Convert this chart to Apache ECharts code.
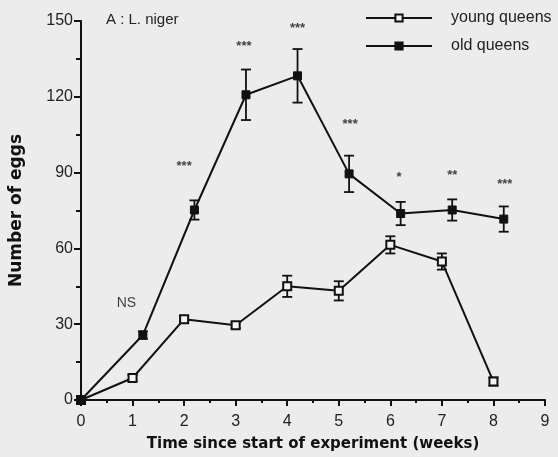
<!DOCTYPE html>
<html>
<head>
<meta charset="utf-8">
<script src="https://cdn.jsdelivr.net/npm/echarts@6/dist/echarts.min.js"></script>
<style>
html,body{margin:0;padding:0;background:#ececec;}
#c{width:558px;height:457px;}
</style>
</head>
<body>
<div id="c"></div>
<script>
// Data
var youngWeeks = [0, 1, 2, 3, 4, 5, 6, 7, 8];
var youngMeans = [0, 8.7, 32, 29.6, 45, 43.2, 61.4, 54.8, 7.3];
var youngErr   = [0, 1.2, 1.2, 1.2, 4.2, 3.8, 3.4, 3.2, 1.6];

var oldWeeks = [0, 1.2, 2.2, 3.2, 4.2, 5.2, 6.2, 7.2, 8.2];
var oldMeans = [0, 25.7, 75.2, 120.8, 128.3, 89.5, 73.8, 75.2, 71.6];
var oldErr   = [0, 1.5, 3.8, 10.0, 10.6, 7.2, 4.6, 4.2, 5.0];

var sigX = [0.88, 2.0, 3.16, 4.2, 5.22, 6.17, 7.2, 8.22];
var sigY = [38.2, 94, 141.5, 148.5, 110.5, 89.5, 90.5, 87];
var sigText = ["NS", "***", "***", "***", "***", "*", "**", "***"];

var xTicks = [0, 1, 2, 3, 4, 5, 6, 7, 8, 9];
var yTicks = [0, 30, 60, 90, 120, 150];

var chart = echarts.init(document.getElementById('c'), null, {renderer: 'canvas'});

function pairs(xs, ys) { return xs.map(function (x, i) { return [x, ys[i]]; }); }
function errData(xs, ys, es) {
  var out = [];
  for (var i = 0; i < xs.length; i++) {
    if (es[i] > 0) out.push([xs[i], ys[i] - es[i], ys[i] + es[i]]);
  }
  return out;
}
function errRender(params, api) {
  var x = api.value(0);
  var lo = api.coord([x, api.value(1)]);
  var hi = api.coord([x, api.value(2)]);
  var w = 5;
  var st = {stroke: '#111', lineWidth: 1.8};
  return {
    type: 'group',
    children: [
      {type: 'line', shape: {x1: lo[0], y1: lo[1], x2: hi[0], y2: hi[1]}, style: st},
      {type: 'line', shape: {x1: lo[0] - w, y1: lo[1], x2: lo[0] + w, y2: lo[1]}, style: st},
      {type: 'line', shape: {x1: hi[0] - w, y1: hi[1], x2: hi[0] + w, y2: hi[1]}, style: st}
    ]
  };
}

var font = '"Liberation Sans", Arial, Helvetica, sans-serif';
var boldFont = '"DejaVu Sans", "Liberation Sans", sans-serif';

chart.setOption({
  backgroundColor: '#ececec',
  animation: false,
  textStyle: {fontFamily: font},
  title: {
    text: 'A : L. niger',
    left: 101, top: 7,
    textStyle: {fontSize: 15, fontWeight: 'normal', color: '#222', fontFamily: font}
  },
  legend: {
    orient: 'vertical',
    left: 360, top: 5,
    itemWidth: 66, itemHeight: 9,
    itemGap: 12,
    textStyle: {fontSize: 16, color: '#222', fontFamily: font, padding: [0, 0, 0, 14]},
    data: ['young queens', 'old queens']
  },
  grid: {left: 80, right: 13, top: 21, bottom: 56},
  xAxis: {
    type: 'value', min: 0, max: 9, interval: 1,
    name: 'Time since start of experiment (weeks)',
    nameLocation: 'middle', nameGap: 37,
    nameTextStyle: {fontSize: 15, fontWeight: 'bold', color: '#111', fontFamily: boldFont},
    axisLine: {lineStyle: {color: '#111', width: 2}},
    axisTick: {show: true, length: 6, lineStyle: {color: '#111', width: 2}},
    minorTick: {show: true, splitNumber: 2, length: 3, lineStyle: {color: '#111', width: 2}},
    splitLine: {show: false},
    axisLabel: {fontSize: 16, color: '#222', margin: 14, fontFamily: font,
      formatter: function (v) { return xTicks.indexOf(v) >= 0 ? String(v) : ''; }}
  },
  yAxis: {
    type: 'value', min: 0, max: 150, interval: 30,
    name: 'Number of eggs',
    nameLocation: 'middle', nameGap: 56,
    nameTextStyle: {fontSize: 17, fontWeight: 'bold', color: '#111', fontFamily: boldFont},
    axisLine: {show: true, lineStyle: {color: '#111', width: 2}},
    axisTick: {show: true, length: 7, lineStyle: {color: '#111', width: 2}},
    minorTick: {show: true, splitNumber: 2, length: 5, lineStyle: {color: '#111', width: 2}},
    splitLine: {show: false},
    axisLabel: {fontSize: 16, color: '#222', margin: 8, fontFamily: font,
      formatter: function (v) { return yTicks.indexOf(v) >= 0 ? String(v) : ''; }}
  },
  series: [
    {
      name: 'young queens', type: 'line',
      data: pairs(youngWeeks, youngMeans),
      symbol: 'rect', symbolSize: 8, showAllSymbol: true,
      lineStyle: {color: '#111', width: 2},
      itemStyle: {color: '#f4f4f4', borderColor: '#111', borderWidth: 2},
      z: 3
    },
    {
      name: 'old queens', type: 'line',
      data: pairs(oldWeeks, oldMeans),
      symbol: 'rect', symbolSize: 8, showAllSymbol: true,
      lineStyle: {color: '#111', width: 2},
      itemStyle: {color: '#111', borderColor: '#111', borderWidth: 1},
      z: 3
    },
    {
      type: 'custom', renderItem: errRender, silent: true,
      data: errData(youngWeeks, youngMeans, youngErr), z: 2
    },
    {
      type: 'custom', renderItem: errRender, silent: true,
      data: errData(oldWeeks, oldMeans, oldErr), z: 2
    },
    {
      type: 'scatter', symbolSize: 0, silent: true,
      data: sigX.map(function (x, i) {
        var isStar = sigText[i].charAt(0) === '*';
        return {
          value: [x, sigY[i]], txt: sigText[i],
          label: isStar ? {offset: [0, 4], fontSize: 13, fontWeight: 'bold'} : {fontSize: 14, offset: [0, 0]}
        };
      }),
      label: {
        show: true, position: 'inside', color: '#111', fontFamily: font,
        formatter: function (p) { return p.data.txt; }
      }
    }
  ]
});
</script>
</body>
</html>
